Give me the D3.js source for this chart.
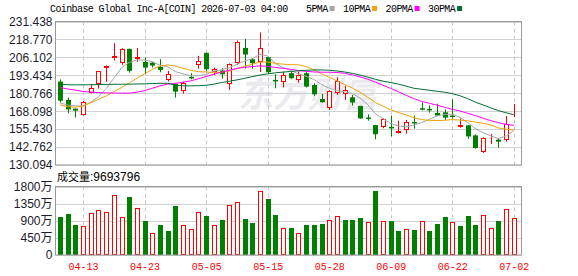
<!DOCTYPE html>
<html>
<head>
<meta charset="utf-8">
<script src="https://cdn.jsdelivr.net/npm/d3@7"></script>
<style>
  body { margin: 0; background: #fff; }
  svg { display: block; }
</style>
</head>
<body>
<div id="chart"></div>
<script>
// trading days shown on the chart
const dates = [
  "04-08","04-09","04-10","04-13","04-14","04-15","04-16","04-17","04-20","04-21",
  "04-22","04-23","04-24","04-27","04-28","04-29","04-30","05-01","05-04","05-05",
  "05-06","05-07","05-08","05-11","05-12","05-13","05-14","05-15","05-18","05-19",
  "05-20","05-21","05-22","05-26","05-27","05-28","05-29","06-01","06-02","06-03",
  "06-04","06-05","06-08","06-09","06-10","06-11","06-12","06-15","06-16","06-17",
  "06-18","06-22","06-23","06-24","06-25","06-26","06-29","06-30","07-01","07-02"
];
const tickDates = ["04-13", "04-23", "05-05", "05-15", "05-28", "06-09", "06-22", "07-02"];

const open = [
  189.0,176.0,169.9,165.0,180.8,187.1,198.2,206.0,201.7,212.1,
  205.0,202.9,202.4,199.4,190.7,187.4,181.9,192.3,200.3,209.3,
  196.1,196.8,187.4,202.0,212.8,204.8,202.4,206.4,190.2,189.0,
  194.9,190.2,194.9,186.6,176.7,170.6,180.8,180.3,177.9,171.8,
  163.6,158.3,156.7,157.0,152.9,154.8,160.5,170.2,169.7,166.9,
  167.3,165.0,157.0,158.1,151.0,139.3,150.8,148.0,147.8,164.5
];
const high = [
  190.5,177.7,170.2,175.3,187.1,196.5,200.5,216.1,212.8,212.3,
  212.8,206.0,203.0,204.8,196.6,187.5,189.0,194.9,207.2,209.5,
  198.9,198.4,201.8,218.0,219.2,205.5,223.7,206.5,194.2,196.1,
  196.1,196.1,196.1,187.8,180.3,182.9,192.1,185.9,179.6,171.9,
  165.9,158.5,163.1,164.7,161.4,161.9,165.0,174.2,172.3,173.4,
  169.4,176.5,162.8,158.2,151.8,149.7,152.0,148.9,164.7,173.2
];
const low = [
  174.2,166.6,163.6,165.0,180.5,184.1,188.8,203.9,200.8,195.4,
  202.9,194.2,198.9,195.6,189.0,177.7,180.5,190.6,198.2,196.1,
  193.7,191.1,183.1,200.8,198.2,198.2,195.8,194.9,184.3,184.8,
  190.7,188.3,184.8,178.9,174.2,169.0,179.6,176.0,172.0,162.6,
  161.4,148.2,156.0,150.3,152.4,152.2,155.8,168.7,167.1,164.7,
  161.7,162.8,156.5,148.7,141.6,138.6,145.0,142.3,146.6,163.8
];
const close = [
  175.5,169.4,168.5,174.4,184.3,196.3,199.8,207.2,211.9,196.6,
  206.4,198.9,200.3,197.3,194.7,181.9,187.8,191.8,203.4,197.7,
  198.2,194.2,201.5,217.0,208.1,202.0,212.6,195.6,189.7,193.7,
  191.4,193.7,185.5,180.0,174.4,182.4,189.2,183.1,174.2,163.0,
  163.4,151.8,162.4,156.5,154.1,160.2,160.0,169.7,169.2,165.0,
  163.6,164.5,158.1,150.3,142.1,149.2,151.5,146.6,158.8,165.2
];

// moving averages as drawn
const ma5 = [
  173.9,172.5,171.8,171.8,174.5,178.3,184.0,191.4,198.8,202.5,
  204.3,204.2,203.0,200.5,199.5,196.0,194.5,193.0,193.2,194.0,
  196.4,197.3,198.8,201.3,203.5,205.2,208.2,207.1,201.8,198.9,
  196.8,194.5,192.8,190.5,187.0,184.3,182.6,181.8,180.6,177.5,
  172.8,166.3,162.8,159.4,157.6,157.0,158.2,160.1,162.3,164.8,
  165.8,166.0,163.7,160.0,155.8,152.9,150.7,148.8,150.5,154.5
];
const ma10 = [
  172.5,171.3,170.9,171.8,174.0,176.5,178.9,181.9,184.8,188.0,
  191.4,194.6,197.6,200.0,200.8,200.0,198.4,197.0,196.0,195.8,
  195.4,195.6,196.5,198.2,199.8,201.3,202.8,202.9,201.9,201.3,
  201.0,200.9,199.6,197.4,194.6,192.1,189.5,187.0,184.5,181.5,
  178.0,174.2,171.6,169.1,167.1,165.6,163.5,162.2,161.6,161.5,
  161.6,162.2,161.8,161.3,160.4,159.5,158.4,156.3,155.3,154.9
];
const ma20 = [
  184.8,183.8,183.0,182.0,181.6,181.2,181.0,180.9,180.8,180.8,
  181.5,182.6,184.3,186.0,187.2,187.8,188.6,189.5,191.0,192.6,
  194.2,195.6,197.0,198.3,199.1,199.6,200.1,199.8,199.0,198.4,
  197.7,196.8,196.2,195.8,195.6,195.6,195.4,194.9,193.7,192.3,
  190.7,188.6,186.4,184.2,181.8,179.3,177.0,175.0,173.7,172.4,
  170.9,169.4,168.3,166.6,165.0,163.1,161.4,160.0,158.8,158.1
];
const ma30 = [
  187.2,186.8,186.7,186.7,186.8,186.9,187.0,187.1,187.1,187.2,
  187.3,187.4,187.6,187.8,187.8,186.5,186.0,186.0,186.1,186.4,
  187.2,188.3,189.2,190.2,191.3,192.5,193.6,194.5,195.2,195.7,
  196.2,196.6,197.0,197.2,197.2,197.0,196.5,195.8,194.8,193.6,
  192.2,190.6,189.3,188.3,187.2,185.8,184.3,183.6,182.9,182.2,
  181.5,180.5,179.0,177.0,174.5,172.5,170.5,168.5,167.0,165.6
];

// volume in 万 shares
const volume = [
  1001,1080,790,755,1098,1177,1124,1572,992,1528,
  1229,896,571,790,632,1291,781,676,1124,1027,
  781,922,1308,1387,948,843,1677,1475,1054,711,
  711,571,781,781,808,913,1018,922,922,975,
  860,1686,887,887,632,676,659,887,632,817,
  1001,860,764,1027,790,1045,702,896,1203,969.3796
];

const priceTicks = [130.094, 142.762, 155.430, 168.098, 180.766, 193.434, 206.102, 218.770, 231.438];
const volumeTicks = [0, 450, 900, 1350, 1800];

const title = "Coinbase Global Inc-A[COIN] 2026-07-03 04:00";
const maNames = ["5PMA", "10PMA", "20PMA", "30PMA"];
const maColors = ["#a6a6a6", "#f0a30a", "#ff00ff", "#006e32"];

const RED = "#ff0000";
const GREEN = "#007f00";
const width = 578, height = 276;
const plotLeft = 55.5, plotRight = 521.5;
const priceTop = 21.5, priceBottom = 165;
const volTop = 186.5, volBottom = 255;
const monoFont = "'Liberation Mono', 'DejaVu Sans Mono', monospace";
const sansFont = "'Liberation Sans', Arial, sans-serif";

const svg = d3.select("#chart").append("svg")
  .attr("width", width)
  .attr("height", height);

const x = d3.scaleLinear().domain([0, dates.length - 1]).range([60, 513.8]);
const y = d3.scaleLinear().domain([priceTicks[0], priceTicks[priceTicks.length - 1]]).range([priceBottom, priceTop]);
const yVol = d3.scaleLinear().domain([0, 1800]).range([volBottom, volTop]);
const cx = i => Math.round(x(i));

// watermark
svg.append("text")
  .attr("x", 238).attr("y", 107)
  .attr("font-family", "'Noto Sans CJK SC', sans-serif")
  .attr("font-size", 35).attr("font-weight", "bold")
  .attr("font-style", "italic")
  .attr("fill", "#ebebef")
  .text("东方财富");

// grids
function drawGrid(scale, ticks, top, bottom) {
  svg.append("g").selectAll("line").data(ticks).join("line")
    .attr("x1", plotLeft).attr("x2", plotRight)
    .attr("y1", d => Math.round(scale(d)) + 0.5)
    .attr("y2", d => Math.round(scale(d)) + 0.5)
    .attr("stroke", "#d2d2d2");
  svg.append("g").selectAll("line").data(tickDates).join("line")
    .attr("x1", d => cx(dates.indexOf(d)) + 0.5)
    .attr("x2", d => cx(dates.indexOf(d)) + 0.5)
    .attr("y1", top).attr("y2", bottom)
    .attr("stroke", "#c8c8c8")
    .attr("stroke-dasharray", "4,3");
}
drawGrid(y, priceTicks, priceTop, priceBottom);
drawGrid(yVol, volumeTicks, volTop, volBottom);

// candles
const candles = svg.append("g");
dates.forEach((d, i) => {
  const up = close[i] >= open[i];
  const color = up ? RED : GREEN;
  candles.append("line")
    .attr("x1", cx(i) + 0.5).attr("x2", cx(i) + 0.5)
    .attr("y1", y(high[i])).attr("y2", y(low[i]))
    .attr("stroke", color);
  const top = y(Math.max(open[i], close[i]));
  const bottom = y(Math.min(open[i], close[i]));
  if (up) {
    candles.append("rect")
      .attr("x", cx(i) - 1.5).attr("width", 4)
      .attr("y", Math.round(top) + 0.5)
      .attr("height", Math.max(0, Math.round(bottom - top) - 1))
      .attr("fill", "#fff").attr("stroke", color);
  } else {
    candles.append("rect")
      .attr("x", cx(i) - 2).attr("width", 5)
      .attr("y", top)
      .attr("height", Math.max(1.5, bottom - top))
      .attr("fill", color);
  }
});

// moving average lines
[ma5, ma10, ma20, ma30].forEach((series, k) => {
  svg.append("path")
    .datum(series)
    .attr("fill", "none")
    .attr("stroke", maColors[k])
    .attr("stroke-width", 1)
    .attr("d", d3.line().x((d, i) => x(i)).y(d => y(d)));
});

// volume bars, coloured by change against the previous close
svg.append("g").selectAll("rect").data(volume).join("rect")
  .each(function (v, i) {
    const rising = i === 0 ? close[i] >= open[i] : close[i] >= close[i - 1];
    const top = Math.round(yVol(v));
    const bar = d3.select(this);
    if (rising) {
      bar.attr("x", cx(i) - 1.5).attr("width", 4)
        .attr("y", top + 0.5).attr("height", volBottom - top - 1)
        .attr("fill", "#fff").attr("stroke", RED);
    } else {
      bar.attr("x", cx(i) - 2).attr("width", 5)
        .attr("y", top).attr("height", volBottom - top)
        .attr("fill", GREEN);
    }
  });

// frames
[[priceTop, priceBottom], [volTop, volBottom]].forEach(([t, b]) => {
  svg.append("rect")
    .attr("x", plotLeft).attr("y", t)
    .attr("width", plotRight - plotLeft).attr("height", b - t)
    .attr("fill", "none").attr("stroke", "#999");
});

// axes
const yAxis = svg.append("g")
  .attr("transform", `translate(${plotLeft},0)`)
  .call(d3.axisLeft(y).tickValues(priceTicks).tickSize(0).tickPadding(3).tickFormat(d3.format(".3f")));
const volAxis = svg.append("g")
  .attr("transform", `translate(${plotLeft},0)`)
  .call(d3.axisLeft(yVol).tickValues(volumeTicks).tickSize(0).tickPadding(3)
    .tickFormat(d => d ? d + "万" : "0"));
[yAxis, volAxis].forEach(g => {
  g.select(".domain").remove();
  g.selectAll("text")
    .attr("font-family", sansFont + ", 'Noto Sans CJK SC'")
    .attr("font-size", 12)
    .attr("fill", "#1c1c2c");
});

const xAxis = svg.append("g")
  .attr("transform", `translate(0,${volBottom})`)
  .call(d3.axisBottom(x).tickValues(tickDates.map(d => dates.indexOf(d)))
    .tickSize(0).tickPadding(8).tickFormat(i => dates[i]));
xAxis.select(".domain").remove();
xAxis.selectAll("text")
  .attr("font-family", monoFont)
  .attr("font-size", 10)
  .attr("fill", RED);

// title and legend
svg.append("text")
  .attr("x", 50).attr("y", 12)
  .attr("font-family", monoFont)
  .attr("font-size", 10)
  .attr("letter-spacing", -0.6)
  .attr("fill", "#000")
  .text(title);

let lx = 306;
maNames.forEach((name, k) => {
  const w = name.length * 5.4;
  svg.append("text")
    .attr("x", lx).attr("y", 12)
    .attr("font-family", monoFont)
    .attr("font-size", 10)
    .attr("letter-spacing", -0.6)
    .attr("fill", "#000")
    .text(name);
  svg.append("rect")
    .attr("x", lx + w + 2).attr("y", 6)
    .attr("width", 5).attr("height", 5)
    .attr("fill", maColors[k]);
  lx += w + 2 + 5 + 8.5;
});

const volLabel = svg.append("text")
  .attr("x", 57).attr("y", 181)
  .attr("fill", "#000");
volLabel.append("tspan")
  .attr("font-family", "'Noto Sans CJK SC', sans-serif")
  .attr("font-size", 11)
  .text("成交量");
volLabel.append("tspan")
  .attr("font-family", sansFont)
  .attr("font-size", 12)
  .text(":" + Math.round(volume[volume.length - 1] * 10000));
</script>
</body>
</html>
